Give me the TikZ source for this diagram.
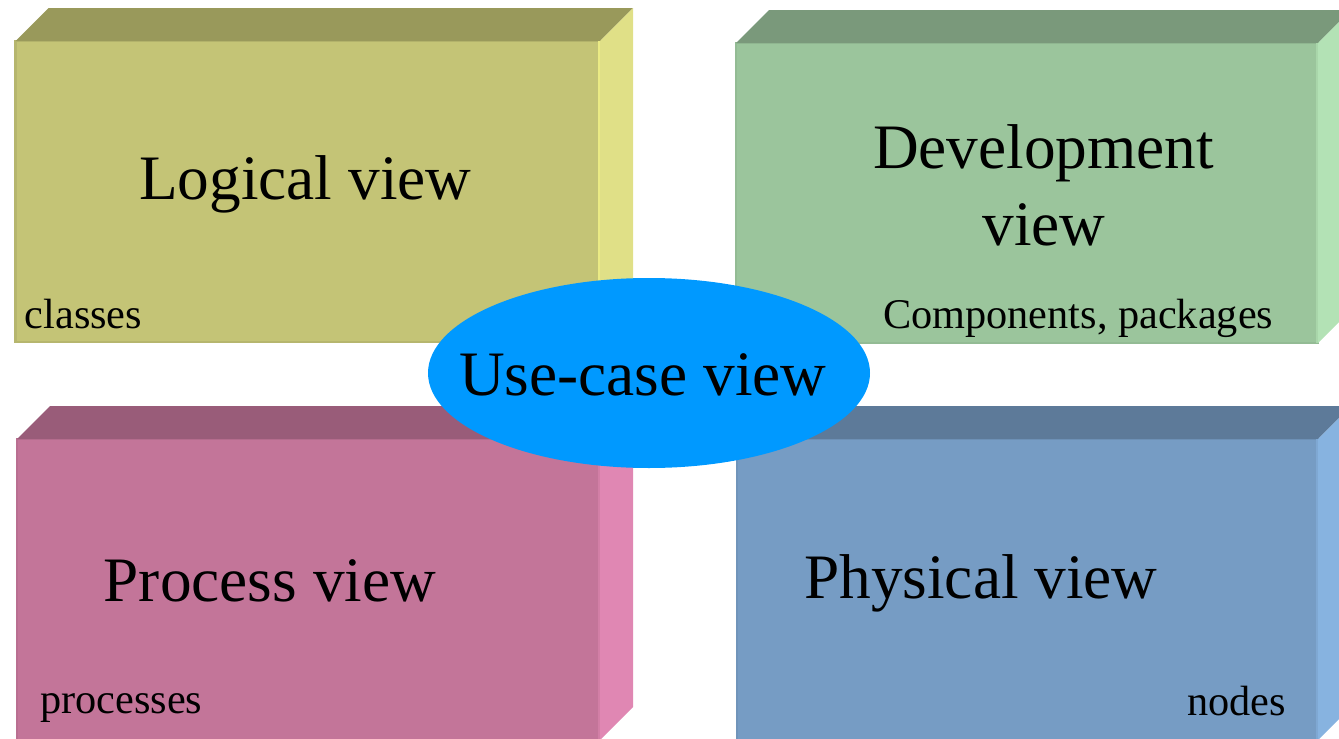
\documentclass[tikz,border=0pt]{standalone}
\usepackage{fontspec}
\setmainfont{Liberation Serif}
\usetikzlibrary{shapes.geometric,calc}

% face colours of the four view blocks
\definecolor{logFront}{HTML}{C4C476}
\definecolor{logTop}{HTML}{99995B}
\definecolor{logSide}{HTML}{E0E087}
\definecolor{logEdge}{HTML}{EBEB85}
\definecolor{devFront}{HTML}{9BC59C}
\definecolor{devTop}{HTML}{7A997B}
\definecolor{devSide}{HTML}{B3E2B5}
\definecolor{devEdge}{HTML}{A9D6AA}
\definecolor{proFront}{HTML}{C37599}
\definecolor{proTop}{HTML}{995C79}
\definecolor{proSide}{HTML}{E087B3}
\definecolor{proEdge}{HTML}{D27FA6}
\definecolor{phyFront}{HTML}{769CC4}
\definecolor{phyTop}{HTML}{5D7A99}
\definecolor{phySide}{HTML}{87B3E0}
\definecolor{phyEdge}{HTML}{7FA8D3}
\definecolor{useCase}{HTML}{0099FF}

\tikzset{
  frontface/.style={rectangle, inner sep=0pt, outer sep=0pt,
    minimum width=#1, line width=2.5pt},
  bigtext/.style={inner sep=0pt, font=\fontsize{63.3}{77}\selectfont},
  smalltext/.style={inner sep=0pt, font=\fontsize{42.3}{50}\selectfont},
}

% \viewblock{name}{front}{top}{side}{edge}: top and side faces of a block
\newcommand{\viewblock}[5]{%
  \fill[#3] (#1.north west) -- ++(33,-33) -- ++($(#1.north east)-(#1.north west)$) -- (#1.north east) -- cycle;
  \fill[#4] (#1.north east) -- ++(33,-33) -- ++($(#1.south east)-(#1.north east)$) -- (#1.south east) -- cycle;
  \draw[#5, line width=2.5pt] ([xshift=-1.25pt]#1.north east) -- ([xshift=-1.25pt]#1.south east);
}

\begin{document}
\begin{tikzpicture}[x=1pt, y=-1pt]
  \useasboundingbox (0,0) rectangle (1339,739);
  \clip (0,0) rectangle (1339,739);

  % front faces of the four blocks
  \node[frontface=584.5pt, minimum height=301pt, fill=logFront, draw=logFront!93!black]
    (logical) at (307.75,191.5) {};
  \node[frontface=582pt, minimum height=300pt, fill=devFront, draw=devFront!95!black]
    (development) at (1027,193) {};
  \node[frontface=583pt, minimum height=301pt, fill=proFront, draw=proFront!95!black]
    (process) at (308.5,589.5) {};
  \node[frontface=581pt, minimum height=301pt, fill=phyFront, draw=phyFront!95!black]
    (physical) at (1027.5,589.5) {};

  \viewblock{logical}{logFront}{logTop}{logSide}{logEdge}
  \viewblock{development}{devFront}{devTop}{devSide}{devEdge}
  \viewblock{process}{proFront}{proTop}{proSide}{proEdge}
  \viewblock{physical}{phyFront}{phyTop}{phySide}{phyEdge}

  % central use-case ellipse
  \node[ellipse, fill=useCase, inner sep=0pt, minimum width=442pt, minimum height=190pt]
    (usecase) at (649,373) {};

  % block titles
  \node[bigtext, anchor=base west] (logicalTitle) at (139,199) {Logical view};
  \node[bigtext, anchor=base] (devTitleA) at (1043.5,168) {Development};
  \node[bigtext, anchor=base] (devTitleB) at (1044,245.6) {view};
  \node[bigtext, anchor=base west] (processTitle) at (103.6,601.7) {Process view};
  \node[bigtext, anchor=base west] (physicalTitle) at (804,598) {Physical view};
  \node[bigtext, anchor=base west] (usecaseTitle) at (459,395) {Use-case view};

  % block contents
  \node[smalltext, anchor=base west] (classes) at (24.5,328) {classes};
  \node[smalltext, anchor=base west] (components) at (883,328) {Components, packages};
  \node[smalltext, anchor=base west] (processes) at (40,713) {processes};
  \node[smalltext, anchor=base west] (nodes) at (1187,715) {nodes};
\end{tikzpicture}
\end{document}
